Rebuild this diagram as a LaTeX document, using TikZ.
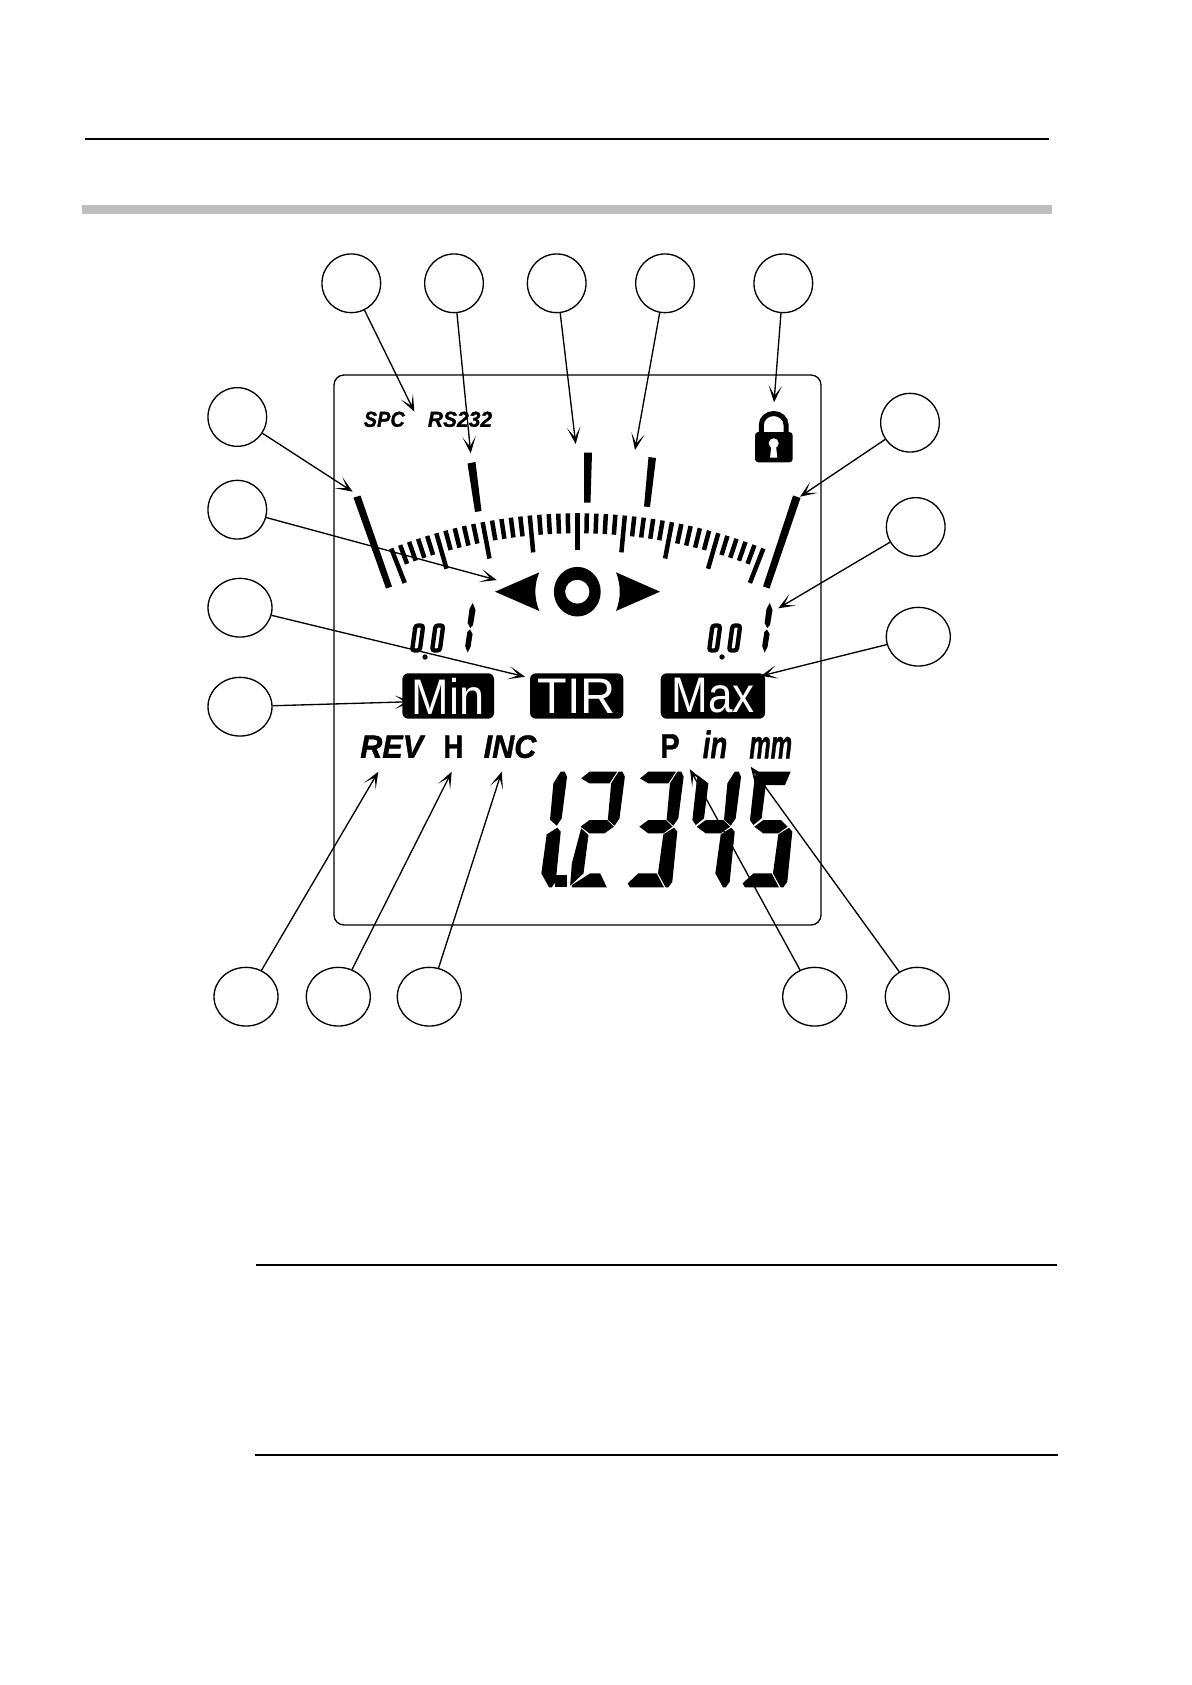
\documentclass[tikz,border=0pt]{standalone}
\usepackage{fontspec}
\setmainfont{Liberation Sans}
\newfontfamily\lcdheavy[FakeBold=1.2]{Liberation Sans}
\usetikzlibrary{arrows.meta,shapes.geometric,calc}
% segments of a big digit, measured from its right middle junction
\newcommand\sega{\fill (-100,-145) -- (-75,-165) -- (8,-165) -- (-15,-130) -- (-75,-130) -- cycle;}
\newcommand\segb{\fill (12,-165) -- (24,-165) -- (31,-150) -- (15,-25) -- (0,-3) -- (-20,-21) -- (-10,-130) -- cycle;}
\newcommand\segc{\fill (2,3) -- (12,15) -- (-3,165) -- (-15,182) -- (-23,182) -- (-46,140) -- (-30,23) -- cycle;}
\newcommand\segd{\fill (-137,170) -- (-105,140) -- (-50,140) -- (-28,182) -- (-130,182) -- cycle;}
\newcommand\sege{\fill (-100,5) -- (-78,25) -- (-93,140) -- (-133,177) -- (-128,110) -- cycle;}
\newcommand\segf{\fill (-100,-155) -- (-115,-20) -- (-105,-5) -- (-80,-25) -- (-67,-130) -- cycle;}
\newcommand\segg{\fill (-102,0) -- (-75,-20) -- (-22,-20) -- (-2,0) -- (-30,20) -- (-75,20) -- cycle;}
\newcommand\segh{\fill (-128,175) -- (-73,140) -- (-43,140) -- (-23,182) -- (-128,182) -- cycle;}
\newcommand\segi{\fill (-100,-165) -- (7,-165) -- (-10,-125) -- (-83,-125) -- cycle;}
\newcommand\bigdigit[2]{%
  \begin{scope}[shift={(#1,826.7)},x=.2pt,y=-.2pt]
    \foreach \s in {#2} {\csname seg\s\endcsname}
  \end{scope}}
\newcommand\lcdlabel[3]{\scalebox{#1}[1]{\fontsize{#2}{#2}\selectfont #3}}
\tikzset{
  callout/.style={draw,ellipse,line width=.8pt,inner sep=0pt,minimum width=35.2pt,minimum height=35.2pt},
  wide_callout/.style={callout,minimum width=38.4pt},
  pointer/.style={line width=.8pt,-{Stealth[length=10pt,width=8pt,inset=6pt]}},
  word/.style={inner sep=0pt,outer sep=0pt,text=black},
  badge/.style={fill=black,text=white,rounded corners=3.5pt,inner sep=0pt,minimum height=27.2pt},
  small_tick/.style={line width=2.7pt},
  rule/.style={line width=1.2pt},
}
\begin{document}
\begin{tikzpicture}[x=.6pt,y=-.6pt]
  \useasboundingbox (0,0) rectangle (1191,1685);

  % page rules
  \draw [rule] (85,139) -- (1049,139);
  \fill [black!25] (82,205) rectangle (1052,214);
  \draw [rule] (256,1265) -- (1057,1265);
  \draw [rule] (255,1455) -- (1058,1455);

  % display
  \draw [line width=.8pt,rounded corners=6pt] (334,375) rectangle (821,925);

  \node (spc) [word] at (384.3,419.3) {\lcdlabel{.92}{13pt}{\lcdheavy\bfseries\itshape SPC}};
  \node (rs) [word] at (460,419.3) {\lcdlabel{.97}{13pt}{\lcdheavy\bfseries\itshape RS232}};

  % padlock
  \draw [line width=3pt] (761.3,433.5) -- (761.3,425) arc [start angle=180,end angle=360,x radius=12.4,y radius=11.5] -- (786.1,433.5);
  \fill [rounded corners=2pt] (755,432) rectangle (792.7,462.3);
  \fill [white] (773.7,443.3) circle [radius=5];
  \fill [white] (771.5,445) -- (770,457.7) -- (777.3,457.7) -- (775.9,445) -- cycle;

  % scale
  \foreach \i in {-20,...,20} {
    \pgfmathsetmacro\a{\i*1.07}
    \pgfmathsetmacro\len{ifthenelse(mod(abs(\i),5)==0,37,20)}
    \draw [small_tick] ({577.3+510*sin(\a)},{1023.3-510*cos(\a)}) -- ({577.3+(510-\len)*sin(\a)},{1023.3-(510-\len)*cos(\a)});
  }
  \fill (353.5,497.7) -- (360.5,495.5) -- (392,586.5) -- (386,588.5) -- cycle;
  \fill (793,495.5) -- (800.5,498) -- (769.5,588.5) -- (763,586.5) -- cycle;
  \fill (467.5,463.5) -- (475.5,462) -- (481.5,511) -- (475,512) -- cycle;
  \fill (584,452.7) -- (592,452.7) -- (590.5,502.5) -- (584,502.5) -- cycle;
  \fill (648.5,457) -- (656,458) -- (650,507) -- (644,506.5) -- cycle;

  % centre mark
  \fill [even odd rule] (577.3,591.7) ellipse [x radius=23.4,y radius=24.8] (577.3,591.7) ellipse [x radius=12.2,y radius=12];
  \fill (495,591.7) -- (539.3,572.3) .. controls (534,585) and (534,598) .. (539.3,611) -- cycle;
  \fill (660,591.7) -- (616,572.3) .. controls (621,585) and (621,598) .. (616,611) -- cycle;

  % small readouts
  \foreach \dx in {0,297} {
    \begin{scope}[shift={(\dx,0)}]
      \foreach \zx in {0,20}
        \draw [line width=2.6pt,rounded corners=1.5pt,shift={(\zx,0)}] (415.5,625.5) -- (423.2,625.5) -- (419.8,650.5) -- (412.1,650.5) -- cycle;
      \fill (425,657) circle [radius=2.7];
      \fill (472.7,603) -- (475.5,610) -- (473,625) -- (470.3,628) -- (467.6,623) -- (469.5,609) -- cycle;
      \fill (470,629.5) -- (472.6,634) -- (470.5,647) -- (467.6,652.5) -- (465.2,646) -- (467.3,632) -- cycle;
    \end{scope}
  }

  % badges
  \node (minbox) [badge,minimum width=55pt] at (448.2,696) {\lcdlabel{.9}{30pt}{Min}};
  \node (tirbox) [badge,minimum width=56pt] at (576.7,696) {\lcdlabel{.97}{30pt}{TIR}};
  \node (maxbox) [badge,minimum width=62.6pt] at (712.9,696) {\lcdlabel{.88}{30pt}{Max}};

  \node (rev) [word] at (391.7,746.7) {\lcdlabel{.95}{19.3pt}{\lcdheavy\bfseries\itshape REV}};
  \node (hold) [word] at (453.3,746.7) {\lcdlabel{.85}{19.3pt}{\lcdheavy\bfseries H}};
  \node (inc) [word] at (510,746.7) {\lcdlabel{.95}{19.3pt}{\lcdheavy\bfseries\itshape INC}};
  \node (preset) [word] at (670,746) {\lcdlabel{.85}{20.5pt}{\lcdheavy\bfseries P}};
  \node (inch) [word] at (715,744.3) {\lcdlabel{.72}{23pt}{\lcdheavy\bfseries\itshape in}};
  \node (mm) [word] at (770.7,747.7) {\lcdlabel{.6}{24pt}{\lcdheavy\bfseries\itshape mm}};

  % big number
  \bigdigit{556.7}{b,c}
  \fill (555,875) rectangle (566.7,887.3);
  \bigdigit{614.5}{a,b,g,e,h}
  \bigdigit{673.3}{a,b,g,c,d}
  \bigdigit{730.7}{f,g,b,c}
  \bigdigit{788.3}{i,f,g,c,d}

  % callouts
  \node (top1) [callout] at (351.3,283.3) {};
  \node (top2) [callout] at (454,283.3) {};
  \node (top3) [callout] at (556.7,283.3) {};
  \node (top4) [callout] at (665,283.3) {};
  \node (top5) [callout] at (783.3,283.3) {};
  \node (left1) [callout] at (237.3,417) {};
  \node (left2) [callout] at (237.3,509.7) {};
  \node (left3) [wide_callout] at (240,607.7) {};
  \node (left4) [wide_callout] at (240,706.7) {};
  \node (right1) [callout] at (910,422.7) {};
  \node (right2) [callout] at (915.7,527) {};
  \node (right3) [wide_callout] at (918.3,636.7) {};
  \node (low1) [wide_callout] at (246,996.7) {};
  \node (low2) [wide_callout] at (338.3,996.7) {};
  \node (low3) [wide_callout] at (429.3,996.7) {};
  \node (low4) [wide_callout] at (814.7,996.7) {};
  \node (low5) [wide_callout] at (917.3,996.7) {};

  % arrow ends
  \coordinate (spcend) at (414.3,411.7);
  \coordinate (rsend) at (470.7,453.3);
  \coordinate (barend) at (575.7,444);
  \coordinate (tolend) at (635,450);
  \coordinate (lockend) at (774,402.3);
  \coordinate (lbarend) at (352.7,491.7);
  \coordinate (markend) at (496.7,580);
  \coordinate (tirend) at (525,676.7);
  \coordinate (minend) at (411.7,701.7);
  \coordinate (rbarend) at (800,496.7);
  \coordinate (oneend) at (778.3,608.3);
  \coordinate (maxend) at (760.7,676);
  \coordinate (revend) at (378.3,771.7);
  \coordinate (holdend) at (451.7,771.7);
  \coordinate (incend) at (501.7,771.7);
  \coordinate (inend) at (690,769.3);
  \coordinate (mmend) at (750.7,766.7);

  \draw [pointer] (top1) -- (spcend);
  \draw [pointer] (top2) -- (rsend);
  \draw [pointer] (top3) -- (barend);
  \draw [pointer] (top4) -- (tolend);
  \draw [pointer] (top5) -- (lockend);
  \draw [pointer] (left1) -- (lbarend);
  \draw [pointer] (left2) -- (markend);
  \draw [pointer] (left3) -- (tirend);
  \draw [pointer] (left4) -- (minend);
  \draw [pointer] (right1) -- (rbarend);
  \draw [pointer] (right2) -- (oneend);
  \draw [pointer] (right3) -- (maxend);
  \draw [pointer] (low1) -- (revend);
  \draw [pointer] (low2) -- (holdend);
  \draw [pointer] (low3) -- (incend);
  \draw [pointer] (low4) -- (inend);
  \draw [pointer] (low5) -- (mmend);
\end{tikzpicture}
\end{document}
